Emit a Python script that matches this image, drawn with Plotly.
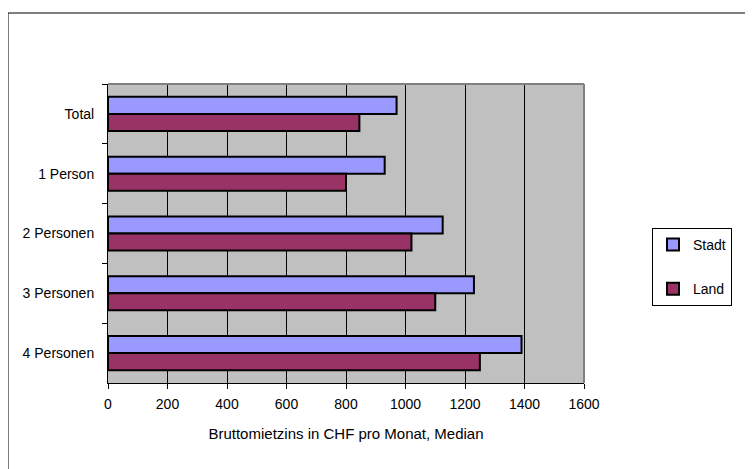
import plotly.graph_objects as go

categories = ["Total", "1 Person", "2 Personen", "3 Personen", "4 Personen"]
stadt = [970, 930, 1125, 1230, 1390]
land = [845, 800, 1020, 1100, 1250]
x_ticks = [0, 200, 400, 600, 800, 1000, 1200, 1400, 1600]

W, H = 753, 469
OFF = 8  # page body margin offset
# target plot-area edges in window pixels
L, R, T, B = 108, 584, 84, 383

FONT = "Liberation Sans, Arial, sans-serif"

fig = go.Figure()
fig.add_trace(go.Bar(
    y=categories, x=stadt, name="Stadt", orientation="h",
    marker=dict(color="#9999FF", line=dict(color="black", width=2)),
    legendgroup="a",
))
fig.add_trace(go.Bar(
    y=categories, x=land, name="Land", orientation="h",
    marker=dict(color="#993366", line=dict(color="black", width=2)),
    legendgroup="b",
))

pw = R - L
ph = B - T

def px_x(x):
    return (x - L) / pw

def px_y(y):
    return (B - y) / ph

shapes = [
    dict(type="rect", xref="paper", yref="paper",
         x0=px_x(8), x1=px_x(W + 20), y0=px_y(H + 20), y1=px_y(13),
         line=dict(color="black", width=1), fillcolor="rgba(0,0,0,0)", layer="above"),
    dict(type="line", xref="paper", yref="paper", x0=0, x1=1, y0=1, y1=1,
         line=dict(color="#808080", width=2), layer="above"),
    dict(type="line", xref="paper", yref="paper", x0=1, x1=1, y0=0, y1=1,
         line=dict(color="#808080", width=2), layer="above"),
]

ml = L - OFF
mt = T - OFF
fig.update_layout(
    width=W, height=H,
    margin=dict(l=ml, r=W - ml - pw, t=mt, b=H - mt - ph, pad=0),
    paper_bgcolor="white",
    plot_bgcolor="#C0C0C0",
    font=dict(family=FONT, size=14, color="black"),
    barmode="group",
    bargap=0.43,
    bargroupgap=0,
    shapes=shapes,
    legend=dict(
        x=px_x(652), y=px_y(228), xanchor="left", yanchor="top",
        bgcolor="white", bordercolor="black", borderwidth=1,
        traceorder="grouped", tracegroupgap=23,
        font=dict(family=FONT, size=14, color="black"),
        itemwidth=30,
    ),
    xaxis=dict(
        range=[0, 1600], tickvals=x_ticks, ticktext=[str(v) for v in x_ticks],
        showgrid=True, gridcolor="black", gridwidth=1,
        showline=True, linecolor="black", linewidth=1,
        ticks="outside", ticklen=5, tickcolor="black",
        ticklabelstandoff=3,
        zeroline=False,
        title=dict(text="Bruttomietzins in CHF pro Monat, Median",
                   font=dict(family=FONT, size=15), standoff=17),
    ),
    yaxis=dict(
        autorange="reversed",
        showgrid=False, showline=True, linecolor="black", linewidth=1,
        ticks="outside", ticklen=5, tickcolor="black", tickson="boundaries",
        ticklabelstandoff=10,
    ),
)

fig.write_html("out.html")
